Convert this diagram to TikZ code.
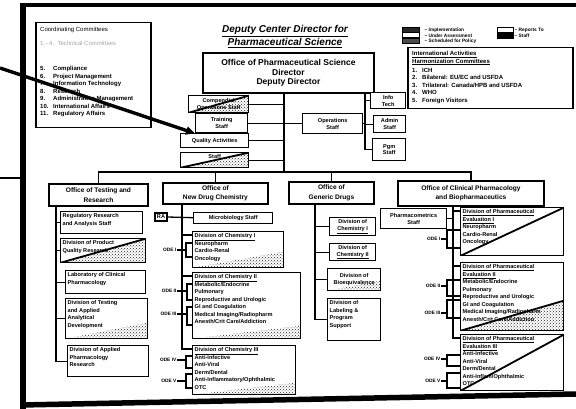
\documentclass[tikz,border=0pt]{standalone}
\usepackage{fontspec}
\setmainfont{Liberation Sans}
\usetikzlibrary{arrows.meta,patterns}

\newcommand{\fsz}[2]{\fontsize{#1}{#2}\selectfont}
% box with centred text: [options]{name}{x,y of top-left}{width}{height}{text}
\newcommand{\centerbox}[6][]{%
  \node[box,#1,anchor=north west,minimum width=#4,minimum height=#5,align=center] (#2) at (#3) {#6};}
% box with text set from its top-left corner
\newcommand{\leftbox}[6][]{%
  \node[box,#1,anchor=north west,minimum width=#4,minimum height=#5] (#2) at (#3) {};
  \node[txt,anchor=north west] (#2-t) at ([xshift=2.5pt,yshift=-2.5pt]#2.north west) {#6};}
% ODE label with its bracket: {name}{label}{x,y of label east}{bracket x}{top}{bottom}{box edge x}
\newcommand{\odegroup}[7]{%
  \node[odelbl,anchor=east] (#1) at (#3) {#2};
  \coordinate (#1-t) at (#7,#5);
  \coordinate (#1-b) at (#7,#6);
  \coordinate (#1-s) at (#4,#5);
  \draw[link] (#1-t) -- (#1-s) |- (#1-b);
  \draw[link] (#1.east) -- (#1.east -| #1-s);}

\begin{document}
\begin{tikzpicture}[x=1pt,y=-1pt,
  box/.style={draw,line width=1.4pt,fill=white,inner sep=1pt,font=\bfseries\fsz{5.6}{6.8}},
  office/.style={line width=1.9pt,font=\bfseries\fsz{6.6}{9.4}},
  txt/.style={inner sep=0pt,align=left,font=\bfseries\fsz{5.6}{7.5}},
  link/.style={line width=1.3pt},
  odelbl/.style={inner sep=0.5pt,font=\bfseries\fsz{4.8}{5}},
  pointer/.style={line width=3.4pt,-{Triangle[length=9pt,width=8pt]}},
  fade/.style={path picture={
    \fill[pattern=crosshatch dots,pattern color=black!85]
      (path picture bounding box.south west) -- (path picture bounding box.south east)
      -- ([yshift=#1pt]path picture bounding box.south east) -- cycle;}},
  fadeslash/.style={path picture={
    \fill[pattern=crosshatch dots,pattern color=black!85]
      (path picture bounding box.south west) -- (path picture bounding box.south east)
      -- ([yshift=#1pt]path picture bounding box.south east) -- cycle;
    \draw[line width=1.8pt] (path picture bounding box.south west)
      -- ([yshift=#1pt]path picture bounding box.south east);}},
  slash/.style={path picture={
    \draw[line width=1.8pt] (path picture bounding box.south west)
      -- (path picture bounding box.north east);}}
]
\useasboundingbox (0,0) rectangle (576,409);

% page frame
\draw[line width=5.5pt] (23,3) -- (23,409);
\draw[line width=4.5pt] (21,5) -- (576,5);
\draw[line width=5.5pt] (21,405) -- (576,394);

% title
\node[font=\bfseries\itshape\fsz{10}{13.5},align=center] (title) at (285,36.5)
  {\underline{Deputy Center Director for}\\\underline{Pharmaceutical Science}};

% director
\centerbox[office,font=\bfseries\fsz{8.5}{9.8}]{dir}{202,52}{171}{40}
  {Office of Pharmaceutical Science\\Director\\Deputy Director}

% coordinating committees
\node[box,anchor=north west,minimum width=115,minimum height=105,line width=1.5pt] (cc) at (35,22) {};
\node[txt,anchor=west,font=\fsz{6}{7}] (cc-h) at (40,30) {Coordinating Committees};
\node[txt,anchor=west,font=\fsz{6}{7},text=black!35] (cc-g) at (40,43) {1.\,-\,4.\ \ Technical Committees};
\node[txt,anchor=north west,font=\bfseries\fsz{6}{7.5}] (cc-l) at (40,66) {%
  \makebox[13pt][l]{5.}Compliance\\
  \makebox[13pt][l]{6.}Project Management\\
  \makebox[13pt][l]{7.}Information Technology\\
  \makebox[13pt][l]{8.}Research\\
  \makebox[13pt][l]{9.}Administrative Management\\
  \makebox[13pt][l]{10.}International Affairs\\
  \makebox[13pt][l]{11.}Regulatory Affairs};

% legend
\node[box,minimum width=17,minimum height=5,fill=black!85,line width=0.9pt] (lg1) at (411,29.5) {};
\node[box,minimum width=17,minimum height=5,line width=0.9pt] (lg2) at (411,35) {};
\node[box,minimum width=17,minimum height=5,fill=black!70,line width=0.9pt] (lg3) at (411,40.5) {};
\node[odelbl,anchor=west] (lg1t) at (424,30) {-- Implementation};
\node[odelbl,anchor=west] (lg2t) at (424,35.5) {-- Under Assessment};
\node[odelbl,anchor=west] (lg3t) at (424,41) {-- Scheduled for Policy};
\node[box,minimum width=16,minimum height=5,line width=0.9pt] (lg4) at (505,29.5) {};
\node[box,minimum width=16,minimum height=5,fill=black,line width=0.9pt] (lg5) at (505,35.5) {};
\node[odelbl,anchor=west] (lg4t) at (514,30) {-- Reports To};
\node[odelbl,anchor=west] (lg5t) at (514,35.5) {-- Staff};

% international activities
\node[box,anchor=north west,minimum width=165,minimum height=61,line width=1.5pt] (intl) at (407,47) {};
\node[txt,anchor=north west,font=\bfseries\fsz{6}{7.5}] (intl-t) at (412,51) {%
  \underline{International Activities}\\
  \underline{Harmonization Committees}\\[1.5pt]
  \makebox[10pt][l]{1.}ICH\\
  \makebox[10pt][l]{2.}Bilateral: EU/EC and USFDA\\
  \makebox[10pt][l]{3.}Trilateral: Canada/HPB and USFDA\\
  \makebox[10pt][l]{4.}WHO\\
  \makebox[10pt][l]{5.}Foreign Visitors};

% staffs of the director
\centerbox[fadeslash=17]{comp}{188,95}{60}{17}{Compendial\\Operations Staff}
\centerbox{train}{195,113}{52}{19}{Training\\Staff}
\centerbox{qual}{180,133}{68}{14}{Quality Activities}
\centerbox[fadeslash=15]{qas}{180,152}{68}{15}{Staff\\\mbox{}}
\centerbox{ops}{302,113}{60}{20}{Operations\\Staff}
\centerbox{info}{370,92}{35}{16}{Info\\Tech}
\centerbox{adm}{373,115}{32}{17}{Admin\\Staff}
\centerbox{prg}{372,138}{33}{22}{Pgm\\Staff}

% offices
\centerbox[office]{otr}{48,183}{99}{22}{Office of Testing and\\Research}
\centerbox[office]{ondc}{162,182}{105}{21}{Office of\\New Drug Chemistry}
\centerbox[office]{ogd}{288,181}{85}{22}{Office of\\Generic Drugs}
\centerbox[office]{ocp}{397,180}{146}{25}{Office of Clinical Pharmacology\\and Biopharmaceutics}

% Office of Testing and Research
\leftbox{rras}{60,211}{82}{22}{Regulatory Research\\and Analysis Staff}
\leftbox[fadeslash=24]{dpqr}{60,238}{85}{24}{Division of Product\\Quality Research}
\leftbox{lcp}{65,270}{80}{23}{Laboratory of Clinical\\Pharmacology}
\leftbox[fade=16]{dtaa}{65,298}{82}{40}{Division of Testing\\and Applied\\Analytical\\Development}
\leftbox{dapr}{67,345}{81}{31}{Division of Applied\\Pharmacology\\Research}

% Office of New Drug Chemistry
\node[box,minimum width=12,minimum height=8] (ra) at (161,217) {RA};
\centerbox{micro}{193,211.5}{79}{11}{Microbiology Staff}
\leftbox[fade=16]{c1}{192,231}{91}{36}{\fsz{5.6}{7.2}\underline{Division of Chemistry I}\\Neuropharm\\Cardio-Renal\\Oncology}
\leftbox[fade=13]{c2}{192,272}{108}{66}{\underline{Division of Chemistry II}\\Metabolic/Endocrine\\Pulmonary\\Reproductive and Urologic\\GI and Coagulation\\Medical Imaging/Radiopharm\\Anesth/Crit Care/Addiction}
\leftbox[fade=12]{c3}{192,345}{103}{49}{\underline{Division of Chemistry III}\\Anti-Infective\\Anti-Viral\\Derm/Dental\\Anti-Inflammatory/Ophthalmic\\OTC}
\odegroup{o1}{ODE I}{177,250}{186}{243}{257}{192}
\odegroup{o2}{ODE II}{177,291}{187}{284}{300}{192}
\odegroup{o3}{ODE III}{177,314}{187}{307}{325}{192}
\odegroup{o4}{ODE IV}{177,360}{186}{356}{368}{192}
\odegroup{o5}{ODE V}{177,381}{186}{374}{388}{192}

% Office of Generic Drugs
\centerbox{g1}{329,217}{46}{18}{Division of\\\underline{Chemistry I}}
\centerbox{g2}{329,243}{46}{17}{Division of\\\underline{Chemistry II}}
\centerbox[fade=10]{gb}{327,268}{53}{22}{Division of\\Bioequivalence}
\leftbox{gl}{327,298}{53}{42}{\fsz{5.6}{9.2}Division of\\Labeling \&\\Program\\Support}

% Office of Clinical Pharmacology and Biopharmaceutics
\centerbox{pms}{380,208}{66}{20}{Pharmacometrics\\Staff}
\leftbox[slash]{e1}{460,207}{103}{48}{\fsz{5.6}{8}\underline{Division of Pharmaceutical}\\\underline{Evaluation I}\\Neuropharm\\Cardio-Renal\\Oncology}
\leftbox[fadeslash=30]{e2}{460,262}{103}{68}{\fsz{5.6}{7.2}\underline{Division of Pharmaceutical}\\\underline{Evaluation II}\\Metabolic/Endocrine\\Pulmonary\\Reproductive and Urologic\\GI and Coagulation\\Medical Imaging/Radiopharm\\Anesth/Crit Care/Addiction}
\leftbox[slash]{e3}{460,334}{103}{56}{\fsz{5.6}{7.3}\underline{Division of Pharmaceutical}\\\underline{Evaluation III}\\Anti-Infective\\Anti-Viral\\Derm/Dental\\Anti-Inflam/Ophthalmic\\OTC}
\odegroup{p1}{ODE I}{441,239}{447}{230}{248}{460}
\odegroup{p2}{ODE II}{441,286}{447}{280}{296}{460}
\odegroup{p3}{ODE III}{441,313}{447}{300}{318}{460}
\odegroup{p4}{ODE IV}{441,359}{447}{355}{366}{460}
\odegroup{p5}{ODE V}{441,381}{447}{373}{388}{460}

% reporting lines from the director
\coordinate (bus) at (284,172);
\coordinate (rtk) at (365,150);
\draw[link] (dir.south -| bus) -- (bus);
\draw[link] (dir.south -| rtk) -- (rtk);
\draw[link] (comp.east) -- (comp.east -| bus);
\draw[link] (train.east) -- (train.east -| ops.west);
\draw[link] (qual.east) -- (qual.east -| bus);
\draw[link] (qas.east) -- (qas.east -| bus);
\draw[link] (ops.east) -- (ops.east -| rtk);
\draw[link] (info.west) -- (info.west -| rtk);
\draw[link] (adm.west) -- (adm.west -| rtk);
\draw[link] (prg.west) -- (prg.west -| rtk);
\draw[link] (otr.north) |- (bus) -| (ocp.north);
\draw[link] (ondc.north) -- (ondc.north |- bus);
\draw[link] (ogd.north) -- (ogd.north |- bus);

% office trunks
\coordinate (tk1) at (56,205);
\coordinate (tk2) at (182,203);
\coordinate (tk3) at (315,203);
\coordinate (tk4) at (453,205);
\draw[link] (otr.south -| tk1) |- (dapr.west);
\foreach \n in {rras,dpqr,lcp,dtaa} \draw[link] (\n.west -| tk1) -- (\n.west);

\coordinate (c1j) at ([yshift=-4pt]c1.north west);
\coordinate (c2j) at ([yshift=-4pt]c2.north west);
\coordinate (c3j) at ([yshift=-4pt]c3.north west);
\draw[link] (ondc.south -| tk2) |- (c3j);
\draw[link] (c1j -| tk2) -- (c1j);
\draw[link] (c2j -| tk2) -- (c2j);
\draw[link] (ra.east) -- (micro.west);

\draw[link] (ogd.south -| tk3) |- (gl.west);
\foreach \n in {g1,g2,gb} \draw[link] (\n.west -| tk3) -- (\n.west);

\coordinate (e1j) at ([yshift=-4pt]e1.north west);
\coordinate (e2j) at ([yshift=-4pt]e2.north west);
\coordinate (e3j) at ([yshift=-4pt]e3.north west);
\draw[link] (ocp.south -| tk4) |- (e3j);
\draw[link] (e1j -| tk4) -- (e1j);
\draw[link] (e2j -| tk4) -- (e2j);
\draw[link] (pms.east) -- (pms.east -| tk4);

% marks at the left margin
\coordinate (ptr) at (0,68);
\draw[pointer] (ptr) -- (train.south west);
\coordinate (mk1) at (0,178);
\coordinate (mk2) at (23,178);
\draw[line width=2.5pt] (mk1) -- (mk2);
\end{tikzpicture}
\end{document}
